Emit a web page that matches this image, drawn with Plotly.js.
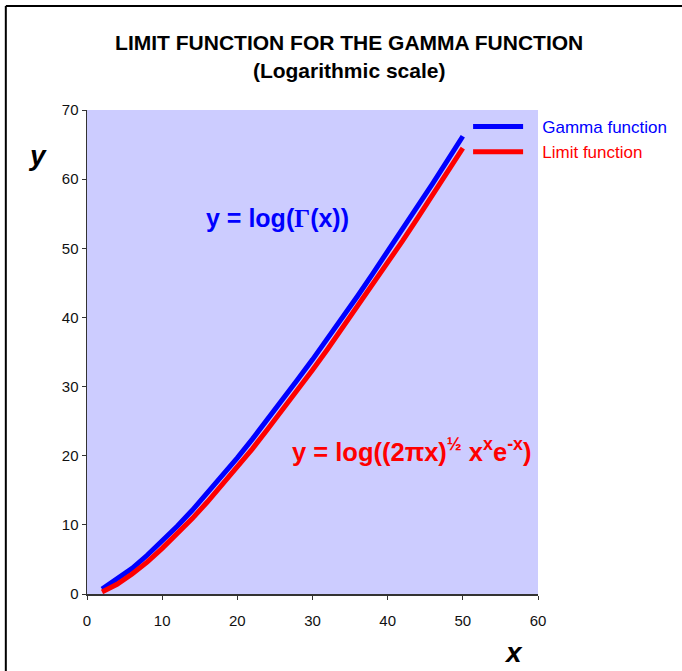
<!DOCTYPE html>
<html>
<head>
<meta charset="utf-8">
<script src="https://cdn.plot.ly/plotly-3.0.1.min.js"></script>
<style>
  body { margin: 0; background: #fff; }
  #chart { width: 682px; height: 671px; }
</style>
</head>
<body>
<div id="chart"></div>
<script>
// values (x step of 2)
var xValues = [2, 4, 6, 8, 10, 12, 14, 16, 18, 20, 22, 24, 26,
               28, 30, 32, 34, 36, 38, 40, 42, 44, 46, 48, 50];
var gammaValues = [0.7, 2.1, 3.7, 5.6, 7.6, 9.8, 12.1, 14.6, 17.1, 19.7, 22.4, 25.2, 28.0,
                   31.0, 33.9, 36.9, 40.0, 43.1, 46.3, 49.5, 52.8, 56.1, 59.4, 62.8, 66.2];
var limitValues = [0.3, 1.4, 2.9, 4.6, 6.6, 8.7, 10.9, 13.3, 15.8, 18.4, 21.0, 23.8, 26.6,
                   29.5, 32.4, 35.4, 38.5, 41.6, 44.7, 47.9, 51.1, 54.4, 57.7, 61.1, 64.5];
var seriesNames = ['Gamma function', 'Limit function'];
var xTicks = [0, 10, 20, 30, 40, 50, 60];
var yTicks = [0, 10, 20, 30, 40, 50, 60, 70];

var font = '"Liberation Sans", Arial, Helvetica, sans-serif';
var blue = 'rgb(0,0,255)', red = 'rgb(255,0,0)';

// legend text is coloured like its line, with a little gap after the symbol
function legendName(name, color) {
    return '<span style="fill:' + color + '">&nbsp;&nbsp;&nbsp;' + name + '</span>';
}

var trace1 = {
    x: xValues,
    y: gammaValues,
    mode: 'lines',
    name: legendName(seriesNames[0], blue),
    line: { color: blue, width: 5 }
};
var trace2 = {
    x: xValues,
    y: limitValues,
    mode: 'lines',
    name: legendName(seriesNames[1], red),
    line: { color: red, width: 5 }
};

var layout = {
    width: 682,
    height: 671,
    margin: { l: 87, r: 144, t: 110, b: 77, autoexpand: false },
    font: { family: font, color: '#000', size: 15 },
    paper_bgcolor: '#fff',
    plot_bgcolor: 'rgb(204,204,255)',
    title: {
        text: '<b>LIMIT FUNCTION FOR THE GAMMA FUNCTION</b><br><b>(Logarithmic scale)</b>',
        font: { family: font, size: 21, color: '#000' },
        x: 0.512, xref: 'container', xanchor: 'center',
        y: 0.925, yref: 'container', yanchor: 'top'
    },
    xaxis: {
        range: [0, 60],
        tickvals: xTicks,
        ticks: 'outside', ticklen: 4, tickcolor: '#333',
        showline: true, linecolor: '#333', linewidth: 1.5,
        showgrid: false, zeroline: false,
        ticklabelstandoff: 8,
        tickfont: { size: 15, color: '#111' }
    },
    yaxis: {
        range: [0, 70],
        tickvals: yTicks,
        ticks: 'outside', ticklen: 4, tickcolor: '#333',
        showline: true, linecolor: '#333', linewidth: 1.5,
        showgrid: false, zeroline: false,
        tickfont: { size: 15, color: '#111' }
    },
    showlegend: true,
    legend: {
        x: 0.845, y: 1.002, xanchor: 'left', yanchor: 'top',
        bgcolor: 'rgba(0,0,0,0)',
        itemwidth: 50,
        font: { family: font, size: 17 }
    },
    annotations: [
        {
            text: '<b>y = log(<span style="font-family:\'Liberation Serif\', \'Times New Roman\', serif">Γ</span>(x))</b>',
            x: 25.3, y: 54.4, xref: 'x', yref: 'y',
            showarrow: false, xanchor: 'center', yanchor: 'middle',
            font: { family: font, size: 25, color: blue }
        },
        {
            text: '<b>y = log((2πx)<sup>½</sup> x<sup>x</sup>e<sup>-x</sup>)</b>',
            x: 43.2, y: 20.8, xref: 'x', yref: 'y',
            showarrow: false, xanchor: 'center', yanchor: 'middle',
            font: { family: font, size: 25.5, color: red }
        },
        {
            text: '<b><i>y</i></b>',
            x: 37, y: 155, xref: 'paper', yref: 'paper',
            showarrow: false, xanchor: 'center', yanchor: 'middle',
            font: { family: font, size: 28, color: '#000' }
        },
        {
            text: '<b><i>x</i></b>',
            x: 513, y: 652, xref: 'paper', yref: 'paper',
            showarrow: false, xanchor: 'center', yanchor: 'middle',
            font: { family: font, size: 28, color: '#000' }
        }
    ],
    shapes: [
        { type: 'line', xref: 'paper', yref: 'paper', x0: -0.18, x1: 1.33, y0: 1.2149, y1: 1.2149,
          line: { color: '#000', width: 2 } },
        { type: 'line', xref: 'paper', yref: 'paper', x0: -0.18, x1: -0.18, y0: 1.2149, y1: -0.17,
          line: { color: '#000', width: 2 } }
    ]
};

// place the axis-letter annotations from pixel positions
var plotW = 682 - 87 - 144, plotH = 671 - 110 - 77;
layout.annotations.forEach(function (a) {
    if (a.xref === 'paper') {
        a.x = (a.x - 87) / plotW;
        a.y = (594 - a.y) / plotH;
    }
});

Plotly.newPlot('chart', [trace1, trace2], layout, { displayModeBar: false, staticPlot: true });
</script>
</body>
</html>
